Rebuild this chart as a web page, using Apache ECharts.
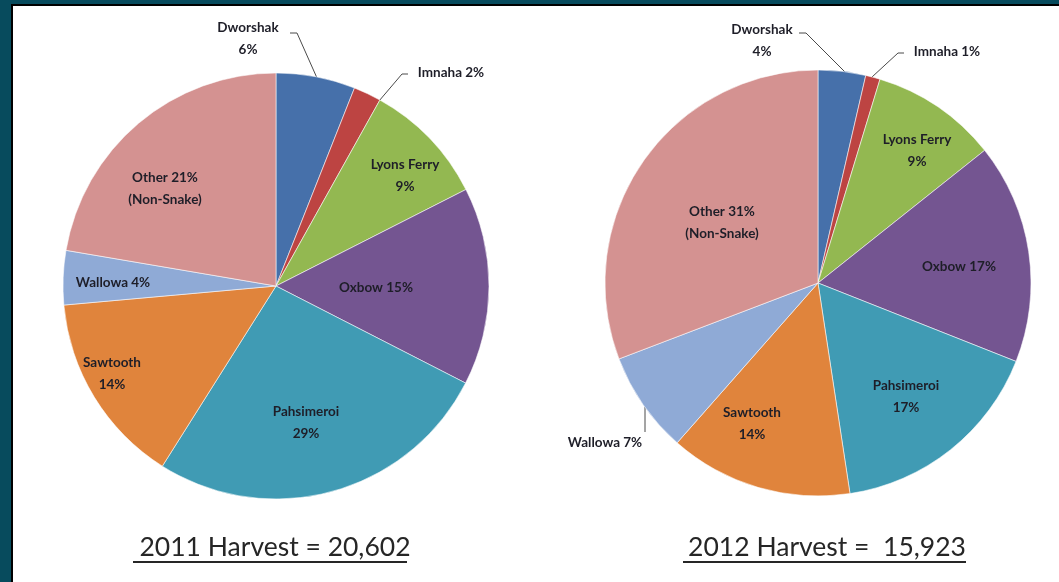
<!DOCTYPE html>
<html>
<head>
<meta charset="utf-8">
<script src="https://cdn.jsdelivr.net/npm/echarts@6/dist/echarts.min.js"></script>
<style>
html,body{margin:0;padding:0;width:100%;height:100%;overflow:hidden;background:#fff;}
.b{position:absolute;}
#chart{position:absolute;left:0;top:0;width:1059px;height:582px;}
</style>
</head>
<body>
<div class="b" style="left:0;top:0;width:100%;height:4px;background:#074b5d"></div>
<div class="b" style="left:0;top:0;width:11px;height:100%;background:#074b5d"></div>
<div class="b" style="left:11px;top:4px;right:0;height:2px;background:#000"></div>
<div class="b" style="left:11px;top:4px;width:2px;bottom:0;background:#000"></div>
<div id="chart"></div>
<script>
// ---- data ----
var categories = ['Dworshak', 'Imnaha', 'Lyons Ferry', 'Oxbow', 'Pahsimeroi', 'Sawtooth', 'Wallowa', 'Other'];
// slice sizes as drawn in the picture (percent of each pie)
var values2011 = [6.0, 2.1, 9.4, 15.0, 26.4, 14.6, 4.1, 22.3];
var values2012 = [3.6, 1.1, 9.6, 16.7, 16.6, 13.9, 7.7, 30.8];
// percentages printed on the labels
var printed2011 = [6, 2, 9, 15, 29, 14, 4, 21];
var printed2012 = [4, 1, 9, 17, 17, 14, 7, 31];
var titles = ['2011 Harvest = 20,602', '2012 Harvest =  15,923'];

// ---- style / layout ----
var colors = ['#4670aa', '#bd4442', '#93b851', '#745591', '#409bb4', '#e0843c', '#8faad6', '#d49291'];
var wrap = [true, false, true, false, true, true, false, true];
var labelPos = [
  [[248,39],[451,73],[405,176],[376,288],[306,423],[112,374],[113,283],[165,189]],
  [[762,41],[947,52],[917,151],[959,267],[906,397],[752,424],[605,443],[722,223]]
];
var leaders = [
  {0: [[317,78],[297,33],[290,33]], 1: [[379,101],[402,74],[408,74]]},
  {0: [[848,75],[806,33],[799,33]], 1: [[872,77],[898,53],[904,53]], 6: [[645,405],[645,432]]}
];

function makeData(vals, printed, si) {
  return categories.map(function (c, i) {
    var pct = printed[i] + '%';
    var txt;
    if (c === 'Other') txt = 'Other ' + pct + '\n(Non-Snake)';
    else txt = wrap[i] ? c + '\n' + pct : c + ' ' + pct;
    var hasLine = leaders[si][i] != null;
    return {
      name: c, value: vals[i], labelText: txt,
      label: {position: hasLine ? 'outside' : 'inside'},
      labelLine: {show: hasLine}
    };
  });
}

function series(vals, printed, si, center) {
  return {
    type: 'pie',
    center: center,
    radius: 213,
    startAngle: 90,
    clockwise: true,
    avoidLabelOverlap: false,
    animation: false,
    silent: true,
    itemStyle: {borderColor: 'rgba(255,255,255,0.55)', borderWidth: 1},
    label: {
      show: true,
      formatter: function (p) { return p.data.labelText; },
      fontFamily: 'Lato',
      fontSize: 13.5,
      fontWeight: 'bold',
      color: '#1e1e28',
      lineHeight: 22,
      align: 'center'
    },
    labelLine: {lineStyle: {color: '#4a4a4a', width: 1}, length: 10, length2: 6},
    labelLayout: function (p) {
      var pos = labelPos[si][p.dataIndex];
      var o = {x: pos[0], y: pos[1], align: 'center', verticalAlign: 'middle'};
      var l = leaders[si][p.dataIndex];
      if (l) {
        o.labelLinePoints = l.length === 2 ? [l[0], l[1], l[1]] : l;
      }
      return o;
    },
    data: makeData(vals, printed, si)
  };
}

var chart = echarts.init(document.getElementById('chart'), null, {renderer: 'canvas'});
chart.setOption({
  backgroundColor: 'transparent',
  color: colors,
  animation: false,
  title: [
    {text: titles[0], left: 270, top: 529, textAlign: 'center',
     textStyle: {fontFamily: 'Lato', fontSize: 26.5, fontWeight: 'normal', color: '#262626'}},
    {text: titles[1], left: 822, top: 529, textAlign: 'center',
     textStyle: {fontFamily: 'Lato', fontSize: 26.5, fontWeight: 'normal', color: '#262626'}}
  ],
  graphic: [
    {type: 'rect', shape: {x: 133, y: 561, width: 274, height: 2}, style: {fill: '#262626'}, silent: true},
    {type: 'rect', shape: {x: 683, y: 561, width: 283, height: 2}, style: {fill: '#262626'}, silent: true}
  ],
  series: [
    series(values2011, printed2011, 0, [276, 286]),
    series(values2012, printed2012, 1, [818, 283])
  ]
});
</script>
</body>
</html>
